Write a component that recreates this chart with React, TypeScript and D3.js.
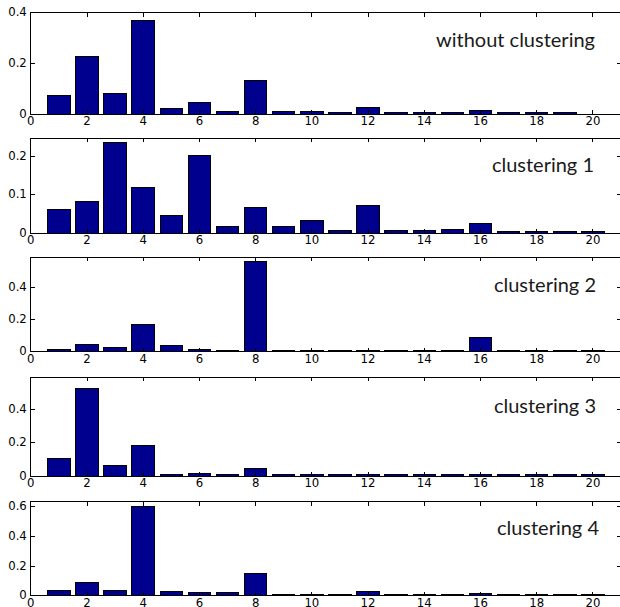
import React from "react";
import * as d3 from "d3";

const categories = d3.range(1, 21);
const xTicks = [0, 2, 4, 6, 8, 10, 12, 14, 16, 18, 20];

const titles = ["without clustering", "clustering 1", "clustering 2", "clustering 3", "clustering 4"];

const withoutClustering = [0.072, 0.226, 0.082, 0.371, 0.0225, 0.047, 0.009, 0.134, 0.008, 0.008, 0.004, 0.024, 0.003, 0.003, 0.002, 0.014, 0.002, 0.002, 0.002, 0];
const clustering1 = [0.061, 0.084, 0.237, 0.12, 0.046, 0.204, 0.016, 0.068, 0.016, 0.032, 0.006, 0.072, 0.006, 0.006, 0.0097, 0.0255, 0.002, 0.002, 0.005, 0.002];
const clustering2 = [0.011, 0.044, 0.027, 0.173, 0.036, 0.011, 0.004, 0.5625, 0.003, 0.003, 0.01, 0.01, 0.003, 0.01, 0.003, 0.0875, 0.003, 0.003, 0.003, 0.003];
const clustering3 = [0.102, 0.525, 0.06, 0.18, 0.008, 0.014, 0.003, 0.044, 0.002, 0.002, 0.002, 0.002, 0.002, 0.002, 0.002, 0.002, 0.002, 0.002, 0.002, 0.002];
const clustering4 = [0.034, 0.092, 0.034, 0.6, 0.027, 0.02, 0.02, 0.151, 0.005, 0.005, 0.002, 0.027, 0.003, 0.003, 0.003, 0.018, 0.003, 0.003, 0.003, 0.003];

const seriesList = [withoutClustering, clustering1, clustering2, clustering3, clustering4];

const yMaxes = [0.4, 0.249, 0.59, 0.59, 0.633];
const yTicksList = [
  [0, 0.2, 0.4],
  [0, 0.1, 0.2],
  [0, 0.2, 0.4],
  [0, 0.2, 0.4],
  [0, 0.2, 0.4, 0.6],
];
const yTickLabels = [
  ["0", "0.2", "0.4"],
  ["0", "0.1", "0.2"],
  ["0", "0.2", "0.4"],
  ["0", "0.2", "0.4"],
  ["0", "0.2", "0.4", "0.6"],
];

// layout (positions only)
const panelBoxes = [
  { top: 12.7, bottom: 114 },
  { top: 138.3, bottom: 233 },
  { top: 257.3, bottom: 351.7 },
  { top: 377.3, bottom: 476 },
  { top: 501.7, bottom: 595.7 },
];
const titlePos = [
  { x: 595, y: 47 },
  { x: 594, y: 172 },
  { x: 596, y: 292 },
  { x: 596, y: 413 },
  { x: 599, y: 535 },
];

const LEFT = 30.8;
const RIGHT = 621;
const TICK = 4;
const tickFont = "'Liberation Sans Narrow', 'DejaVu Sans Condensed', 'Liberation Sans', sans-serif";
const titleFont = "Lato, 'Open Sans', sans-serif";

function Panel({ idx }: { idx: number }) {
  const box = panelBoxes[idx];
  const values = seriesList[idx];
  const x = d3.scaleLinear().domain([0, 21]).range([LEFT, RIGHT]);
  const y = d3.scaleLinear().domain([0, yMaxes[idx]]).range([box.bottom, box.top]);
  const bw = x(0.8) - x(0);
  return (
    <g>
      {categories.map((c, i) => {
        const v = values[i];
        if (v <= 0) return null;
        const y0 = y(0);
        const h = Math.max(1.2, y0 - y(v));
        return (
          <rect
            key={c}
            x={x(c) - bw / 2}
            y={y0 - h}
            width={bw}
            height={h}
            fill="#00008F"
            stroke="#000"
            strokeWidth={1}
          />
        );
      })}
      <rect x={LEFT} y={box.top} width={RIGHT - LEFT} height={box.bottom - box.top} fill="none" stroke="#000" strokeWidth={1} />
      {xTicks.map((t) => (
        <g key={"xt" + t}>
          <line x1={x(t)} x2={x(t)} y1={box.bottom} y2={box.bottom - TICK} stroke="#000" />
          <line x1={x(t)} x2={x(t)} y1={box.top} y2={box.top + TICK} stroke="#000" />
          <text
            x={x(t)}
            y={box.bottom + 11}
            textAnchor="middle"
            fontFamily={tickFont}
            fontSize={13}
            fill="#000"
          >
            {t}
          </text>
        </g>
      ))}
      {yTicksList[idx].map((t, k) => (
        <g key={"yt" + t}>
          <line x1={LEFT} x2={LEFT + TICK} y1={y(t)} y2={y(t)} stroke="#000" />
          <line x1={RIGHT} x2={RIGHT - TICK} y1={y(t)} y2={y(t)} stroke="#000" />
          <text
            x={LEFT - 4}
            y={y(t) + 3.5}
            textAnchor="end"
            fontFamily={tickFont}
            fontSize={13}
            fill="#000"
          >
            {yTickLabels[idx][k]}
          </text>
        </g>
      ))}
      <text
        x={titlePos[idx].x}
        y={titlePos[idx].y}
        textAnchor="end"
        fontFamily={titleFont}
        fontSize={20}
        fill="#1a1a1a"
      >
        {titles[idx]}
      </text>
    </g>
  );
}

export default function App() {
  return (
    <svg
      width={620}
      height={607}
      style={{ position: "absolute", left: 0, top: 0, background: "#fff" }}
      shapeRendering="crispEdges"
    >
      <rect x={0} y={0} width={620} height={607} fill="#fff" />
      {seriesList.map((_, i) => (
        <Panel key={i} idx={i} />
      ))}
    </svg>
  );
}
